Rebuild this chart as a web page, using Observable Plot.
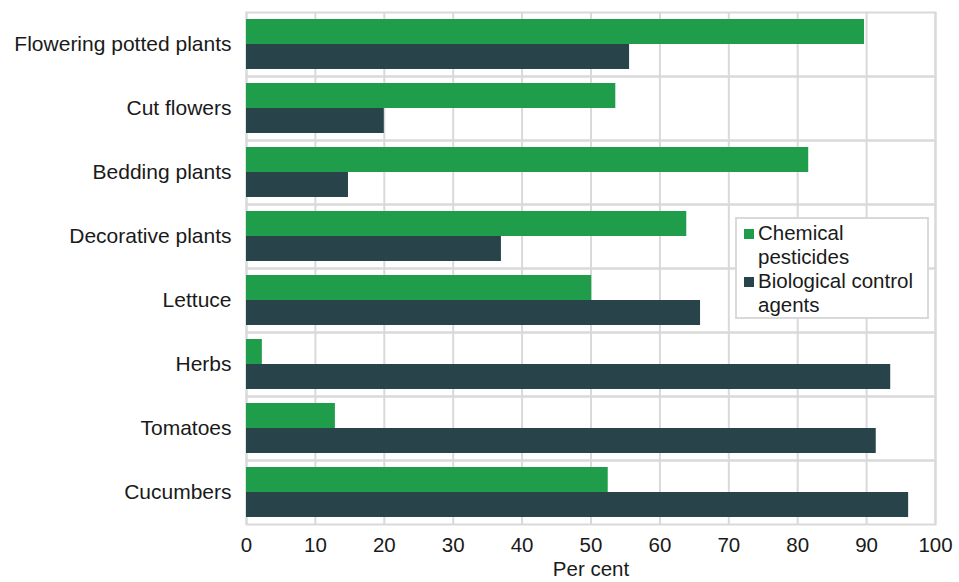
<!DOCTYPE html>
<html>
<head>
<meta charset="utf-8">
<script src="https://cdn.jsdelivr.net/npm/d3@7"></script>
<script src="https://cdn.jsdelivr.net/npm/@observablehq/plot@0.6"></script>
<style>
  html, body { margin: 0; padding: 0; background: #fff; }
  #wrap { position: relative; width: 959px; height: 582px; font-family: "Liberation Sans", Arial, sans-serif; }
  #legend { position: absolute; left: 735px; top: 217px; width: 190px; height: 96px; border: 2px solid #d9d9d9; background: #fff; font-size: 20.5px; color: #1a1a1a; line-height: 24px; padding-top: 2px; box-sizing: content-box; }
  .item { position: relative; padding-left: 21px; }
  .sw { position: absolute; left: 7px; top: 8px; width: 10px; height: 10px; }
</style>
</head>
<body>
<div id="wrap"></div>
<script>
const categories = ["Flowering potted plants", "Cut flowers", "Bedding plants", "Decorative plants", "Lettuce", "Herbs", "Tomatoes", "Cucumbers"];
const series = ["Chemical pesticides", "Biological control agents"];
const chemical = [89.7, 53.6, 81.6, 63.9, 50.1, 2.3, 12.9, 52.5];
const biological = [55.6, 20.0, 14.8, 37.0, 65.9, 93.5, 91.4, 96.1];
const xTicks = [0, 10, 20, 30, 40, 50, 60, 70, 80, 90, 100];
const colors = ["#1f9d4b", "#29434a"];

const data = categories.flatMap((c, i) => [
  {category: c, series: series[0], value: chemical[i]},
  {category: c, series: series[1], value: biological[i]}
]);

const chart = Plot.plot({
  width: 959,
  height: 582,
  marginLeft: 246,
  marginRight: 24,
  marginTop: 9,
  marginBottom: 56,
  style: {fontFamily: "'Liberation Sans', Arial, sans-serif", fontSize: "21px", color: "#1a1a1a", background: "#fff"},
  x: {domain: [0, 100], label: null},
  fy: {domain: categories, padding: 0, label: null},
  y: {domain: series, paddingInner: 0, paddingOuter: 0.24, axis: null},
  color: {domain: series, range: colors},
  marks: [
    Plot.gridX(xTicks, {stroke: "#d9d9d9", strokeOpacity: 1, strokeWidth: 2}),
    Plot.frame({stroke: "#d9d9d9", strokeWidth: 2}),
    Plot.barX(data, {x: "value", y: "series", fy: "category", fill: "series"}),
    Plot.axisFy({anchor: "left", tickSize: 0, tickPadding: 15, fontSize: 21, label: null}),
    Plot.axisX(xTicks, {tickSize: 0, tickPadding: 13, fontSize: 20.5, label: "Per cent", labelAnchor: "center", labelOffset: 51, labelArrow: "none"})
  ]
});

const wrap = document.getElementById("wrap");
wrap.appendChild(chart);

const legend = document.createElement("div");
legend.id = "legend";
series.forEach((s, i) => {
  const item = document.createElement("div");
  item.className = "item";
  const sw = document.createElement("span");
  sw.className = "sw";
  sw.style.background = colors[i];
  item.appendChild(sw);
  item.appendChild(document.createTextNode(s));
  legend.appendChild(item);
});
wrap.appendChild(legend);
</script>
</body>
</html>
